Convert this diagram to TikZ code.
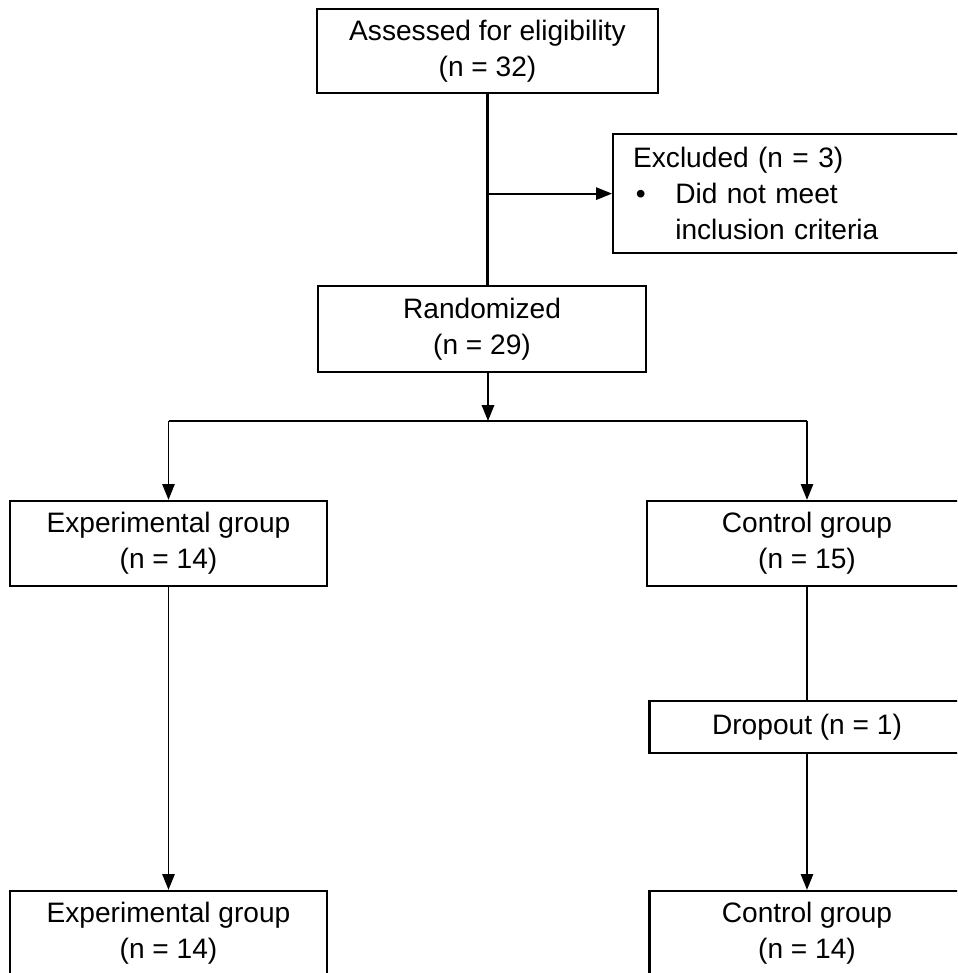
\documentclass[tikz,border=0pt]{standalone}
\usepackage{fontspec}
\setmainfont{Liberation Sans}
\usetikzlibrary{arrows.meta}
\newcommand{\boxfont}{\fontsize{16pt}{20.5pt}\selectfont}
\tikzset{flowbox/.style={draw,black,line width=1.3pt,align=center,inner sep=0pt,font=\boxfont}}
\tikzset{flowline/.style={black,line width=1pt}}
\tikzset{flowarrow/.style={flowline,-{Triangle[length=9pt,width=7pt]}}}

\begin{document}
\begin{tikzpicture}[x=0.02cm,y=-0.02cm]
	\useasboundingbox (0,0) rectangle (957,973);
	\clip (0,0) rectangle (957,973);

	\node[flowbox,minimum width=6.82cm,minimum height=1.68cm] (assess) at (487.5,51) {Assessed for eligibility\\(n = 32)};
	\node[flowbox,anchor=north west,align=left,inner xsep=0.4cm,text width=7.2cm,minimum height=2.38cm] (excl) at (612,133)
		{Excluded (n = 3)\\\makebox[1.5em][l]{\hspace{0.1em}\textbullet}Did not meet\\\hspace*{1.5em}inclusion criteria};
	\node[flowbox,minimum width=6.56cm,minimum height=1.72cm] (rand) at (482,329) {Randomized\\(n = 29)};

	\node[flowbox,minimum width=6.34cm,minimum height=1.7cm] (exp1) at (168.5,543.5) {Experimental group\\(n = 14)};
	\node[flowbox,minimum width=6.4cm,minimum height=1.7cm] (ctrl1) at (807,543.5) {Control group\\(n = 15)};
	\node[flowbox,minimum width=6.3cm,minimum height=1.04cm] (drop) at (807,727) {Dropout (n = 1)};
	\node[flowbox,minimum width=6.34cm,minimum height=1.7cm] (exp2) at (168.5,933.5) {Experimental group\\(n = 14)};
	\node[flowbox,minimum width=6.3cm,minimum height=1.7cm] (ctrl2) at (807,933.5) {Control group\\(n = 14)};

	% enrolment
	\draw[flowline,line width=1.6pt] (assess.south) -- (assess.south |- rand.north);
	\draw[flowarrow] (assess.south |- excl.west) -- (excl.west);

	% allocation
	\coordinate (split) at (488,421);
	\draw[flowarrow] (rand.south -| split) -- (split);
	\draw[flowline,line width=1.5pt] (exp1.north |- split) -- (ctrl1.north |- split);
	\draw[flowarrow] (exp1.north |- split) -- (exp1.north);
	\draw[flowarrow] (ctrl1.north |- split) -- (ctrl1.north);

	% follow-up
	\draw[flowarrow] (exp1.south) -- (exp2.north);
	\draw[flowline] (ctrl1.south) -- (drop.north);
	\draw[flowarrow] (drop.south) -- (ctrl2.north);
\end{tikzpicture}
\end{document}
